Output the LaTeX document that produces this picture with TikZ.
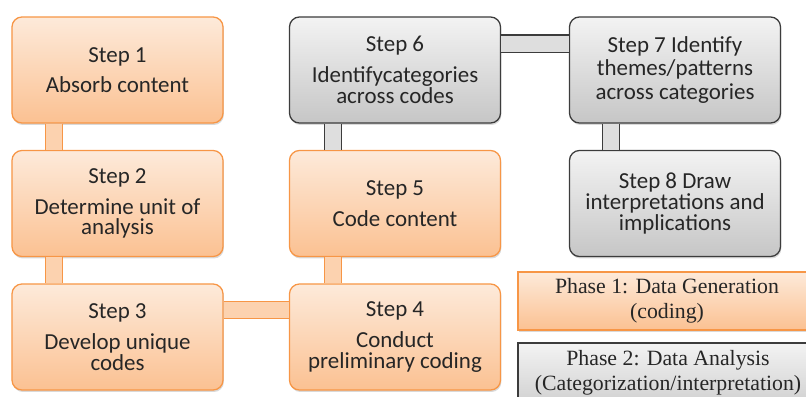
\documentclass[tikz,border=0pt]{standalone}
\usepackage{fontspec}
\setmainfont{Carlito}
\newfontfamily\legendfont{Liberation Serif}
\usetikzlibrary{shadows}

\definecolor{orangeline}{RGB}{247,150,70}
\definecolor{orangetop}{RGB}{253,234,218}
\definecolor{orangebot}{RGB}{251,193,146}
\definecolor{orangetube}{RGB}{252,210,175}
\definecolor{grayline}{RGB}{60,60,60}
\definecolor{graytop}{RGB}{243,243,243}
\definecolor{graybot}{RGB}{198,198,198}
\definecolor{graytube}{RGB}{222,222,222}

\begin{document}
\begin{tikzpicture}[x=0.025cm,y=-0.025cm,
  stepbox/.style={rounded corners=0.25cm, minimum width=5.275cm, minimum height=2.65cm,
    align=center, text=black!85, line width=0.9pt, font=\fontsize{16.3}{14.8}\selectfont,
    drop shadow={opacity=0.3,shadow xshift=0.6pt,shadow yshift=-1.4pt}},
  ostep/.style={stepbox, draw=orangeline, top color=orangetop, bottom color=orangebot},
  gstep/.style={stepbox, draw=grayline, top color=graytop, bottom color=graybot},
  otube/.style={draw=orangeline, line width=0.8pt, double=orangetube, double distance=0.4cm},
  gtube/.style={draw=grayline, line width=0.8pt, double=graytube, double distance=0.4cm},
  phase/.style={align=center, line width=0.8pt, text=black!85,
    font=\legendfont\fontsize{15.5}{18}\selectfont,
    drop shadow={opacity=0.3,shadow xshift=0.6pt,shadow yshift=-1.2pt}}]
  \useasboundingbox (0,0) rectangle (806,396);

  % phase 1 column
  \node[ostep] (s1) at (117.5,70) {Step 1\\[7pt]Absorb content};
  \node[ostep] (s2) at (117.5,203.5) {Step 2\\[7pt]Determine unit of\\analysis};
  \node[ostep] (s3) at (117.5,337) {Step 3\\[7pt]Develop unique\\codes};
  \node[ostep] (s4) at (395,337) {Step 4\\[7pt]Conduct\\preliminary coding};
  \node[ostep] (s5) at (395,203.5) {Step 5\\[7pt]Code content};

  % phase 2
  \node[gstep] (s6) at (395,70) {Step 6\\[7pt]Identifycategories\\across codes};
  \node[gstep] (s7) at (675,70) {Step 7 Identify\\[2pt]themes/patterns\\[2pt]across categories};
  \node[gstep] (s8) at (675,203.5) {Step 8 Draw\\interpretations and\\implications};

  \draw[otube] ([xshift=1.075cm]s1.south west) -- ([xshift=1.075cm]s2.north west);
  \draw[otube] ([xshift=1.075cm]s2.south west) -- ([xshift=1.075cm]s3.north west);
  \draw[otube] ([yshift=0.675cm]s3.east) -- ([yshift=0.675cm]s4.west);
  \draw[otube] ([xshift=1.1cm]s4.north west) -- ([xshift=1.1cm]s5.south west);
  \draw[gtube] ([xshift=1.1cm]s5.north west) -- ([xshift=1.1cm]s6.south west);
  \draw[gtube] ([yshift=0.66cm]s6.east) -- ([yshift=0.66cm]s7.west);
  \draw[gtube] ([xshift=1.05cm]s7.south west) -- ([xshift=1.05cm]s8.north west);

  % legend
  \node[phase, draw=orangeline, top color=orangetop, bottom color=orangebot,
    minimum width=7.45cm, minimum height=1.45cm] (p1) at (667,301)
    {Phase 1: Data Generation\\(coding)};
  \node[phase, draw=grayline, top color=graytop, bottom color=graybot!80!white,
    minimum width=7.5cm, minimum height=1.5cm] (p2) at (668,373)
    {Phase 2: Data Analysis\\(Categorization/interpretation)};
\end{tikzpicture}
\end{document}
